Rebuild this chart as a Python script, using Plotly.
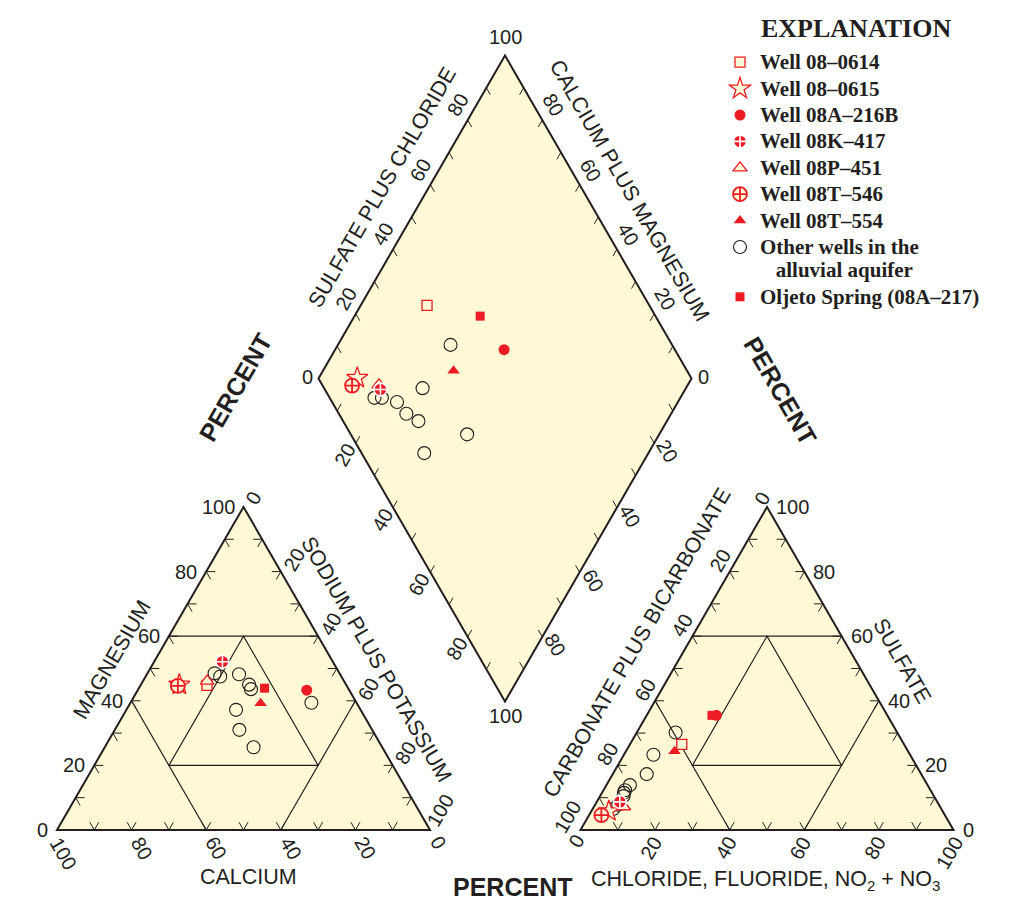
import plotly.graph_objects as go

# ---------------- data: percent of total milliequivalents ----------------
series_names = ["Well 08–0614", "Well 08–0615", "Well 08A–216B", "Well 08K–417",
                "Well 08P–451", "Well 08T–546", "Well 08T–554", "Other wells",
                "Oljeto Spring (08A–217)"]

sample_series = ["Well 08–0614", "Well 08–0615", "Well 08A–216B", "Well 08K–417",
                 "Well 08P–451", "Well 08T–546", "Well 08T–554", "Oljeto Spring (08A–217)",
                 "Other wells", "Other wells", "Other wells", "Other wells", "Other wells",
                 "Other wells", "Other wells", "Other wells", "Other wells"]

calcium          = [37.4, 44.7, 11.4, 29.6, 36.7, 45.3, 25.8, 22.4, 26.2, 33.4, 33.5, 32.5, 27.1, 26.0, 35.6, 12.1, 34.5]
magnesium        = [44.8, 45.0, 43.3, 52.1, 46.1, 44.6, 39.2, 43.9, 43.6, 37.2, 48.5, 47.5, 48.2, 45.0, 31.0, 39.4, 25.6]
sodium_potassium = [17.8, 10.3, 45.3, 18.3, 17.2, 10.1, 35.0, 33.7, 30.2, 29.4, 18.0, 20.0, 24.7, 29.0, 33.4, 48.5, 39.9]
bicarbonate      = [59.6, 89.5, 45.8, 85.1, 84.8, 92.1, 62.6, 47.0, 59.4, 73.6, 88.0, 86.0, 82.6, 81.9, 79.8, 68.8, 83.2]
sulfate          = [26.5, 5.8, 35.5, 8.7, 7.2, 4.6, 24.4, 35.5, 30.2, 17.3, 6.5, 7.8, 11.5, 12.3, 13.9, 23.3, 10.5]
chloride         = [13.9, 4.7, 18.7, 6.2, 8.0, 3.3, 13.0, 17.5, 10.4, 9.1, 5.5, 6.2, 5.9, 5.8, 6.3, 7.9, 6.3]

tick_values = [0, 20, 40, 60, 80, 100]

# ---------------- layout geometry (pixels) ----------------
W, Hh = 1018, 909
L = 373.0
H = L * 3 ** 0.5 / 2
CAT0 = (57.0, 830.0)      # cation triangle, bottom-left vertex
AN0 = (580.5, 830.0)      # anion triangle, bottom-left vertex
DB = (505.0, 701.5)       # diamond, bottom vertex

INK = "#231F20"
RED = "#ED1C24"
YEL = "#FFF9D6"
SANS = "Liberation Sans, Arial, sans-serif"
SERIF = "Liberation Serif, Times New Roman, serif"


def cat_pt(ca, mg, na):
    return (CAT0[0] + L * (na + mg / 2) / 100, CAT0[1] - H * mg / 100)


def an_pt(hco3, so4, cl):
    return (AN0[0] + L * (cl + so4 / 2) / 100, AN0[1] - H * so4 / 100)


def dia_pt(a, c):  # a = SO4+Cl (%), c = Ca+Mg (%)
    return (DB[0] + (L / 2) * (a - c) / 100, DB[1] - H * (a + c) / 100)


shapes = []


def poly(pts, width=2.0, fill=YEL):
    path = "M " + " L ".join(f"{x:.2f},{y:.2f}" for x, y in pts) + " Z"
    shapes.append(dict(type="path", path=path, fillcolor=fill,
                       line=dict(color=INK, width=width), layer="below"))


def seg(p, q, width=1.2):
    shapes.append(dict(type="line", x0=p[0], y0=p[1], x1=q[0], y1=q[1],
                       line=dict(color=INK, width=width), layer="below"))


def arm(p, d, length):
    seg(p, (p[0] + d[0] * length, p[1] + d[1] * length), 1.0)


s3 = 3 ** 0.5 / 2
TL = 9

# ---- cation triangle ----
poly([cat_pt(100, 0, 0), cat_pt(0, 0, 100), cat_pt(0, 100, 0)])
seg(cat_pt(40, 60, 0), cat_pt(0, 60, 40))
seg(cat_pt(60, 40, 0), cat_pt(60, 0, 40))
seg(cat_pt(0, 40, 60), cat_pt(40, 0, 60))
poly([cat_pt(20, 60, 20), cat_pt(60, 20, 20), cat_pt(20, 20, 60)], width=1.2, fill="rgba(0,0,0,0)")
for v in range(10, 100, 10):
    p = cat_pt(v, 0, 100 - v); arm(p, (0.5, -s3), TL); arm(p, (-0.5, -s3), TL)
    p = cat_pt(100 - v, v, 0); arm(p, (1, 0), TL); arm(p, (0.5, s3), TL)
    p = cat_pt(0, 100 - v, v); arm(p, (-1, 0), TL); arm(p, (-0.5, s3), TL)

# ---- anion triangle ----
poly([an_pt(100, 0, 0), an_pt(0, 0, 100), an_pt(0, 100, 0)])
seg(an_pt(40, 60, 0), an_pt(0, 60, 40))
seg(an_pt(60, 40, 0), an_pt(60, 0, 40))
seg(an_pt(0, 40, 60), an_pt(40, 0, 60))
poly([an_pt(20, 60, 20), an_pt(60, 20, 20), an_pt(20, 20, 60)], width=1.2, fill="rgba(0,0,0,0)")
for v in range(10, 100, 10):
    p = an_pt(100 - v, 0, v); arm(p, (0.5, -s3), TL); arm(p, (-0.5, -s3), TL)
    p = an_pt(0, v, 100 - v); arm(p, (-1, 0), TL); arm(p, (-0.5, s3), TL)
    p = an_pt(v, 100 - v, 0); arm(p, (1, 0), TL); arm(p, (0.5, s3), TL)

# ---- diamond ----
poly([dia_pt(0, 0), dia_pt(100, 0), dia_pt(100, 100), dia_pt(0, 100)])
DT = 8
for v in range(10, 100, 10):
    arm(dia_pt(v, 100), (0.5, s3), DT)        # upper-left edge
    arm(dia_pt(100, v), (-0.5, s3), DT)       # upper-right edge
    arm(dia_pt(0, 100 - v), (0.5, -s3), DT)   # lower-left edge
    arm(dia_pt(100 - v, 0), (-0.5, -s3), DT)  # lower-right edge

# ---------------- annotations ----------------
annotations = []


def label(txt, x, y, angle=0, size=20, xanchor="center", bold=False, family=SANS):
    annotations.append(dict(text=(f"<b>{txt}</b>" if bold else txt), x=x, y=y, xref="x", yref="y",
                            showarrow=False, textangle=angle, xanchor=xanchor, yanchor="middle",
                            font=dict(family=family, size=size, color=INK)))


def off(txt, table):
    return table[min(len(txt), 3)]


for v in tick_values:
    t = str(v)
    # cation: magnesium (left edge)
    p = cat_pt(100 - v, v, 0); label(t, p[0] - 7, p[1], xanchor="right")
    # cation: calcium (base)
    p = cat_pt(v, 0, 100 - v); o = off(t, {1: (8, 12), 2: (10, 18), 3: (6, 23)})
    label(t, p[0] + o[0], p[1] + o[1], angle=60)
    # cation: sodium plus potassium (right edge)
    p = cat_pt(0, 100 - v, v); o = off(t, {1: (10, -9), 2: (13, -12), 3: (10, -19)})
    label(t, p[0] + o[0], p[1] + o[1], angle=-60)
    # anion: chloride (base)
    p = an_pt(100 - v, 0, v); o = off(t, {1: (-4, 11), 2: (-4, 18), 3: (-4, 23)})
    label(t, p[0] + o[0], p[1] + o[1], angle=-60)
    # anion: sulfate (right edge)
    p = an_pt(0, v, 100 - v); label(t, p[0] + 7, p[1], xanchor="left")
    # anion: carbonate plus bicarbonate (left edge)
    p = an_pt(v, 100 - v, 0); o = off(t, {1: (-5, -8), 2: (-10, -11), 3: (-13, -13)})
    label(t, p[0] + o[0], p[1] + o[1], angle=-60)

for v in tick_values[1:-1]:
    t = str(v)
    p = dia_pt(v, 100); label(t, p[0] - 10, p[1] - 15, angle=-60)
    p = dia_pt(100, v); label(t, p[0] + 11, p[1] - 15, angle=60)
    p = dia_pt(0, 100 - v); label(t, p[0] - 11, p[1] + 12, angle=-60)
    p = dia_pt(100 - v, 0); label(t, p[0] + 13, p[1] + 8, angle=60)
p = dia_pt(0, 100); label("0", p[0] - 11, p[1] - 1)
p = dia_pt(100, 0); label("0", p[0] + 12, p[1] - 1)
p = dia_pt(100, 100); label("100", p[0], p[1] - 18)
p = dia_pt(0, 0); label("100", p[0], p[1] + 14)

# axis titles
TS = 21.5
label("MAGNESIUM", 112, 660, angle=-60, size=TS)
label("SODIUM PLUS POTASSIUM", 376, 659, angle=60, size=TS)
label("CALCIUM", 248, 877, size=TS)
label("CARBONATE PLUS BICARBONATE", 637, 643, angle=-60, size=TS)
label("SULFATE", 902, 661, angle=60, size=TS)
label("CHLORIDE, FLUORIDE, NO<sub>2</sub> + NO<sub>3</sub>", 765, 880, size=TS)
label("SULFATE PLUS CHLORIDE", 382, 188, angle=-60, size=TS)
label("CALCIUM PLUS MAGNESIUM", 629, 190, angle=60, size=TS)
label("PERCENT", 235, 388, angle=-60, size=25, bold=True)
label("PERCENT", 780, 390, angle=60, size=25, bold=True)
label("PERCENT", 512, 887, size=25, bold=True)
# legend heading
label("EXPLANATION", 856, 28, size=26, bold=True, family=SERIF)

# ---------------- marker styles ----------------
styles = {
    "Well 08–0614": dict(symbol="square", size=10, color=YEL, line=dict(color=RED, width=1.3)),
    "Well 08–0615": dict(symbol="star", size=16, color=YEL, line=dict(color=RED, width=1.3)),
    "Well 08A–216B": dict(symbol="circle", size=11, color=RED, line=dict(color=RED, width=0)),
    "Well 08K–417": dict(symbol="circle-cross", size=13, color=RED, line=dict(color="white", width=1.6)),
    "Well 08P–451": dict(symbol="triangle-up", size=12, color=YEL, line=dict(color=RED, width=1.3)),
    "Well 08T–546": dict(symbol="circle-cross", size=14, color=YEL, line=dict(color=RED, width=1.8)),
    "Well 08T–554": dict(symbol="triangle-up", size=11, color=RED, line=dict(color=RED, width=0)),
    "Other wells": dict(symbol="circle", size=13, color="rgba(0,0,0,0)", line=dict(color=INK, width=1.1)),
    "Oljeto Spring (08A–217)": dict(symbol="square", size=9, color=RED, line=dict(color=RED, width=0)),
}

legend_text = {
    "Other wells": ('<b><span style="font-size:21px">Other wells in the</span></b><br>'
                    '<b><span style="font-size:21px">\u00a0\u00a0\u00a0alluvial aquifer</span></b>'),
}

draw_order = ["Other wells", "Well 08–0614", "Well 08–0615", "Well 08T–546", "Well 08A–216B",
              "Well 08P–451", "Well 08K–417", "Well 08T–554", "Oljeto Spring (08A–217)"]

fig = go.Figure()
for name in draw_order:
    idx = [i for i, s in enumerate(sample_series) if s == name]
    xs, ys = [], []
    for i in idx:
        for p in (cat_pt(calcium[i], magnesium[i], sodium_potassium[i]),
                  an_pt(bicarbonate[i], sulfate[i], chloride[i]),
                  dia_pt(sulfate[i] + chloride[i], calcium[i] + magnesium[i])):
            xs.append(p[0]); ys.append(p[1])
    fig.add_trace(go.Scatter(
        x=xs, y=ys, mode="markers", marker=styles[name],
        name=legend_text.get(name, f'<b><span style="font-size:21px">{name}</span></b>'),
        legendrank=series_names.index(name) + 1, hoverinfo="skip"))

fig.update_layout(
    width=W, height=Hh, margin=dict(l=0, r=0, t=0, b=0),
    paper_bgcolor="white", plot_bgcolor="white",
    xaxis=dict(range=[0, W], visible=False, fixedrange=True),
    yaxis=dict(range=[Hh, 0], visible=False, fixedrange=True),
    shapes=shapes, annotations=annotations, showlegend=True,
    legend=dict(x=720 / W, xanchor="left", y=1 - 44 / Hh, yanchor="top",
                font=dict(family=SERIF, size=18, color=INK),
                bgcolor="rgba(0,0,0,0)", valign="top", itemclick=False,
                itemdoubleclick=False, tracegroupgap=0),
)

fig.write_html("out.html", config={"displayModeBar": False},
               post_script="document.body.style.margin='0';document.body.style.overflow='hidden';")
